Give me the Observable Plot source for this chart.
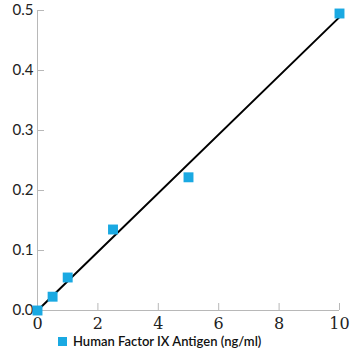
<!DOCTYPE html>
<html>
<head>
<meta charset="utf-8">
<script src="https://cdn.jsdelivr.net/npm/d3@7"></script>
<script src="https://cdn.jsdelivr.net/npm/@observablehq/plot@0.6"></script>
<style>
  html, body { margin: 0; padding: 0; background: #fff; }
  #chart { width: 360px; height: 360px; position: relative; }
  .legend { display: flex; align-items: center; margin-left: 58px; margin-top: 1px;
    font-family: Lato, "Open Sans", sans-serif; font-size: 13px; color: #111; font-weight: 600; }
  .legend .sw { width: 9px; height: 9px; background: #1aa9e2; margin-right: 6px; }
</style>
</head>
<body>
<div id="chart"></div>
<script>
const seriesName = "Human Factor IX Antigen (ng/ml)";
const concentration = [0, 0.5, 1, 2.5, 5, 10];
const absorbance = [0, 0.023, 0.055, 0.135, 0.222, 0.495];
const fitX = [0, 10];
const fitY = [0, 0.489];
const xTicks = [0, 2, 4, 6, 8, 10];
const yTicks = [0, 0.1, 0.2, 0.3, 0.4, 0.5];

const points = concentration.map((x, i) => ({x, y: absorbance[i]}));
const fit = fitX.map((x, i) => ({x, y: fitY[i]}));

const W = 360, H = 332, mL = 37, mR = 21, mT = 10, mB = 22;
const frameW = W - mL - mR, frameH = H - mT - mB;
const tickLen = 7;
const axisColor = "#b8b8b8";

const plot = Plot.plot({
  width: W, height: H,
  marginLeft: mL, marginRight: mR, marginTop: mT, marginBottom: mB,
  x: {domain: [0, 10], axis: null},
  y: {domain: [0, 0.5], axis: null},
  style: {background: "#fff"},
  marks: [
    Plot.ruleX([0], {stroke: axisColor, strokeWidth: 1}),
    Plot.ruleY([0], {stroke: axisColor, strokeWidth: 1}),
    Plot.tickY(yTicks, {y: d => d, stroke: axisColor, insetRight: frameW - tickLen}),
    Plot.tickX(xTicks, {x: d => d, stroke: axisColor, insetTop: frameH - tickLen}),
    Plot.text(yTicks, {y: d => d, text: d => d3.format(".1f")(d), frameAnchor: "left", dx: -4,
      textAnchor: "end", fontSize: 15, fill: "#222", className: "ylab"}),
    Plot.text(xTicks, {x: d => d, text: d => String(d), frameAnchor: "bottom", dy: 13,
      lineAnchor: "middle", fontSize: 16, fill: "#222", className: "xlab"}),
    Plot.line(fit, {x: "x", y: "y", stroke: "#000", strokeWidth: 2}),
    Plot.dot(points, {x: "x", y: "y", symbol: "square", r: 5.6, fill: "#1aa9e2", stroke: "none"})
  ]
});
const chart = document.getElementById("chart");
chart.appendChild(plot);
const textGroups = plot.querySelectorAll('g[aria-label="text"]');
textGroups[0].querySelectorAll("text").forEach(t => t.style.fontFamily = "Lato, 'Open Sans', sans-serif");
textGroups[1].querySelectorAll("text").forEach(t => t.style.fontFamily = "'DejaVu Serif', 'Liberation Serif', serif");
const legend = document.createElement("div");
legend.className = "legend";
legend.innerHTML = `<div class="sw"></div><span></span>`;
legend.querySelector("span").textContent = seriesName;
chart.appendChild(legend);
</script>
</body>
</html>
